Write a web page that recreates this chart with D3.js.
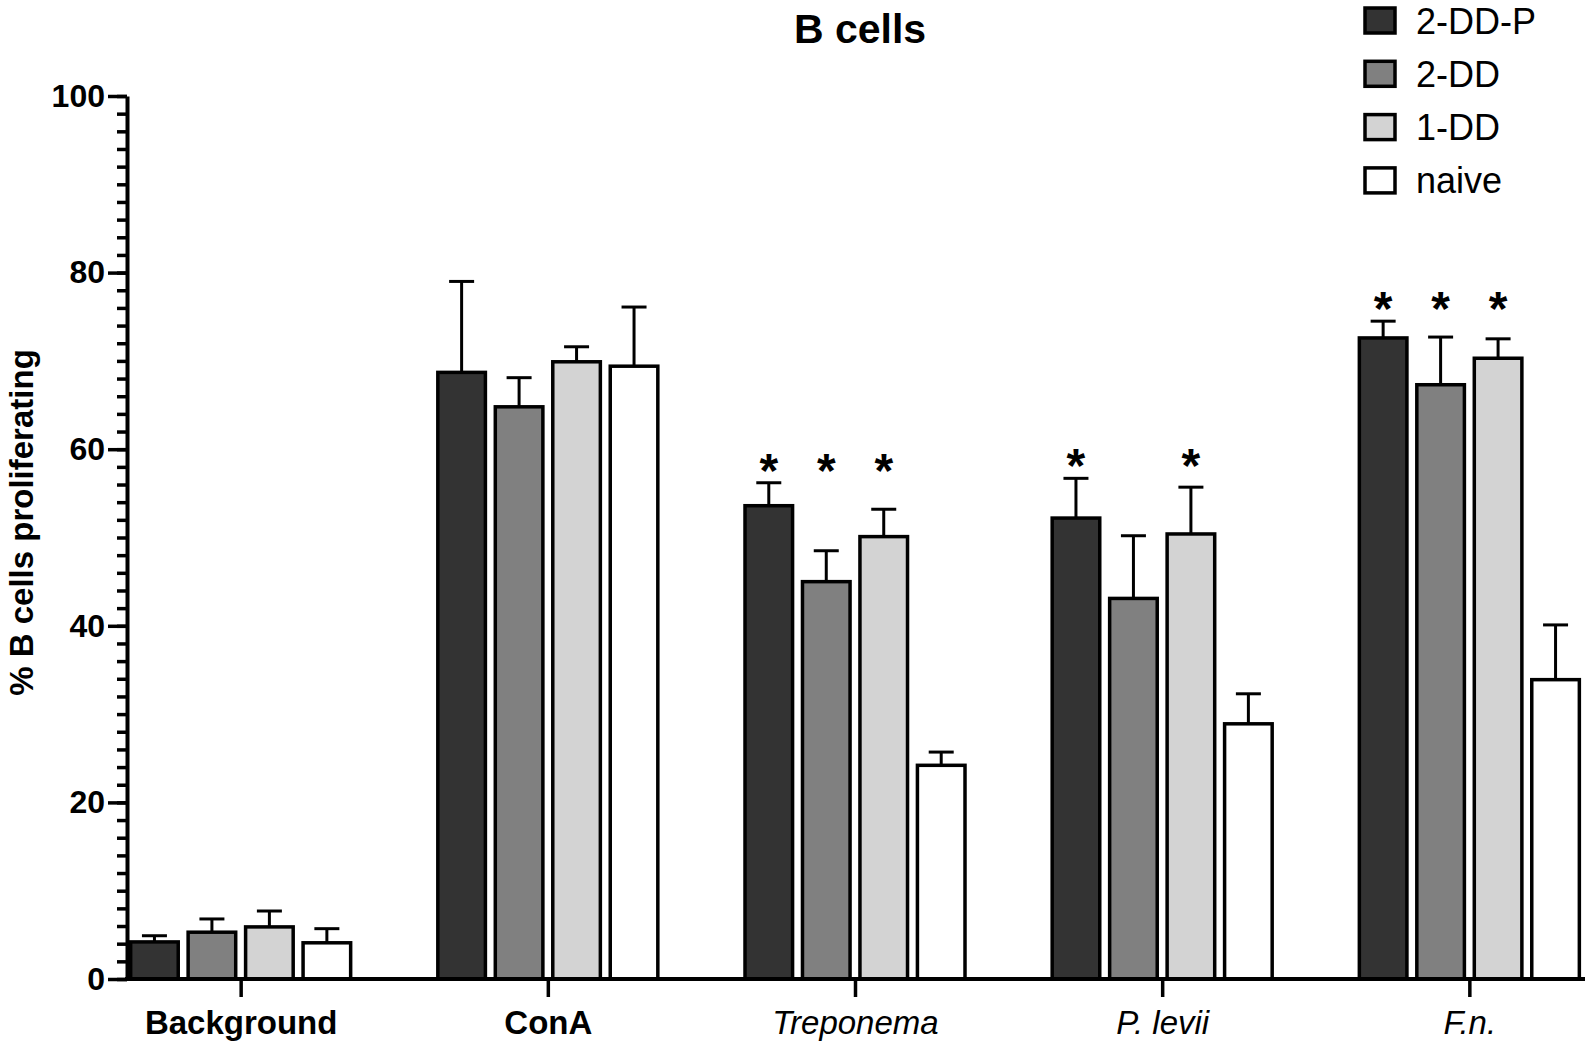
<!DOCTYPE html>
<html>
<head>
<meta charset="utf-8">
<script src="https://cdn.jsdelivr.net/npm/d3@7"></script>
<style>
  html, body { margin: 0; padding: 0; background: #fff; }
  svg { display: block; font-family: "Liberation Sans", Arial, sans-serif; }
</style>
</head>
<body>
<svg id="chart"></svg>
<script>
// data
const categories = ["Background", "ConA", "Treponema", "P. levii", "F.n."];
const seriesNames = ["2-DD-P", "2-DD", "1-DD", "naive"];

const mean2DDP  = [4.2, 68.7, 53.6, 52.2, 72.6];
const err2DDP   = [0.7, 10.3, 2.6, 4.5, 1.9];
const mean2DD   = [5.3, 64.8, 45.0, 43.1, 67.3];
const err2DD    = [1.5, 3.3, 3.5, 7.1, 5.4];
const mean1DD   = [5.9, 69.9, 50.1, 50.4, 70.3];
const err1DD    = [1.8, 1.7, 3.1, 5.3, 2.2];
const meanNaive = [4.1, 69.4, 24.2, 28.9, 33.9];
const errNaive  = [1.6, 6.7, 1.5, 3.4, 6.2];

// significance stars (1 = star above the bar)
const sig2DDP  = [0, 0, 1, 1, 1];
const sig2DD   = [0, 0, 1, 0, 1];
const sig1DD   = [0, 0, 1, 1, 1];
const sigNaive = [0, 0, 0, 0, 0];

const yTicks = [0, 20, 40, 60, 80, 100];

const means = [mean2DDP, mean2DD, mean1DD, meanNaive];
const errs = [err2DDP, err2DD, err1DD, errNaive];
const sigs = [sig2DDP, sig2DD, sig1DD, sigNaive];
const fills = ["#333333", "#808080", "#d3d3d3", "#ffffff"];

const width = 1595, height = 1045;
const svg = d3.select("#chart").attr("width", width).attr("height", height);

const x = d3.scalePoint()
    .domain(categories)
    .range([127, 1583])
    .padding(0.37);

const xs = d3.scaleBand()
    .domain(seriesNames)
    .range([-111.5, 111.5])
    .paddingInner(0.12);

const y = d3.scaleLinear()
    .domain([0, 100])
    .range([979, 96]);

// build rows
let rows = [];
categories.forEach((c, i) => {
    seriesNames.forEach((s, j) => {
        rows.push({cat: c, ser: s, idx: j, mean: means[j][i], err: errs[j][i], sig: sigs[j][i]});
    });
});

// bars
let bars = svg.append("g").attr("class", "bars");
bars.selectAll("rect")
    .data(rows)
    .enter().append("rect")
    .attr("x", d => x(d.cat) + xs(d.ser) + 1.5)
    .attr("y", d => y(d.mean))
    .attr("width", xs.bandwidth() - 3)
    .attr("height", d => y(0) - y(d.mean))
    .attr("fill", d => fills[d.idx])
    .attr("stroke", "#000")
    .attr("stroke-width", 3.5);

// error bars (upper only)
let errG = svg.append("g").attr("class", "errors")
    .attr("stroke", "#000")
    .attr("stroke-width", 3);
errG.selectAll("line.v")
    .data(rows)
    .enter().append("line")
    .attr("class", "v")
    .attr("x1", d => x(d.cat) + xs(d.ser) + xs.bandwidth() / 2)
    .attr("x2", d => x(d.cat) + xs(d.ser) + xs.bandwidth() / 2)
    .attr("y1", d => y(d.mean))
    .attr("y2", d => y(d.mean + d.err));
errG.selectAll("line.cap")
    .data(rows)
    .enter().append("line")
    .attr("class", "cap")
    .attr("x1", d => x(d.cat) + xs(d.ser) + xs.bandwidth() / 2 - 12.5)
    .attr("x2", d => x(d.cat) + xs(d.ser) + xs.bandwidth() / 2 + 12.5)
    .attr("y1", d => y(d.mean + d.err))
    .attr("y2", d => y(d.mean + d.err));

// stars sit at one height per group, just above the tallest error bar
let groupTop = {};
categories.forEach((c, i) => {
    groupTop[c] = d3.max(means.map((m, j) => m[i] + errs[j][i]));
});
svg.append("g").attr("class", "stars")
    .selectAll("text")
    .data(rows.filter(d => d.sig))
    .enter().append("text")
    .attr("x", d => x(d.cat) + xs(d.ser) + xs.bandwidth() / 2)
    .attr("y", d => y(groupTop[d.cat]) + 4)
    .attr("text-anchor", "middle")
    .attr("font-size", 48)
    .attr("font-weight", "bold")
    .text("*");

// y axis with minor ticks
let yAxis = svg.append("g")
    .attr("transform", "translate(127,0)")
    .call(d3.axisLeft(y).tickValues(d3.range(0, 101, 2)).tickSize(10).tickSizeOuter(0).tickFormat(""));
yAxis.select(".domain").attr("stroke-width", 4);
yAxis.selectAll(".tick line").attr("stroke-width", 3.5);

let yAxisMajor = svg.append("g")
    .attr("transform", "translate(127,0)")
    .call(d3.axisLeft(y).tickValues(yTicks).tickSize(19).tickSizeOuter(0).tickPadding(3));
yAxisMajor.select(".domain").remove();
yAxisMajor.selectAll(".tick line").attr("stroke-width", 3.5);
yAxisMajor.selectAll(".tick text")
    .attr("font-size", 32)
    .attr("font-weight", "bold")
    .attr("fill", "#000")
    .attr("font-family", "'Liberation Sans', Arial, sans-serif");

// x axis
let xAxis = svg.append("g")
    .attr("transform", "translate(0," + y(0) + ")")
    .call(d3.axisBottom(x).tickSize(18).tickSizeOuter(0).tickPadding(14));
xAxis.select(".domain").attr("stroke-width", 4).attr("d", "M125,0H1585");
xAxis.selectAll(".tick line").attr("stroke-width", 3.5);
xAxis.selectAll(".tick text")
    .attr("font-size", 33)
    .attr("fill", "#000")
    .attr("font-family", "'Liberation Sans', Arial, sans-serif")
    .attr("font-weight", (d, i) => i < 2 ? "bold" : "normal")
    .attr("font-style", (d, i) => i < 2 ? "normal" : "italic");

// y label
svg.append("text")
    .attr("transform", "translate(33," + ((y(0) + y(100)) / 2 - 15) + ") rotate(-90)")
    .attr("text-anchor", "middle")
    .attr("font-size", 33)
    .attr("font-weight", "bold")
    .text("% B cells proliferating");

// title
svg.append("text")
    .attr("x", 860)
    .attr("y", 43)
    .attr("text-anchor", "middle")
    .attr("font-size", 41)
    .attr("font-weight", "bold")
    .text("B cells");

// legend
let legend = svg.append("g").attr("class", "legend")
    .selectAll("g")
    .data(seriesNames)
    .enter().append("g")
    .attr("transform", (d, i) => "translate(1365," + (8 + i * 53.3) + ")");
legend.append("rect")
    .attr("width", 30)
    .attr("height", 25)
    .attr("fill", (d, i) => fills[i])
    .attr("stroke", "#000")
    .attr("stroke-width", 3.5);
legend.append("text")
    .attr("x", 51)
    .attr("y", 25.5)
    .attr("font-size", 36)
    .text(d => d);
</script>
</body>
</html>
